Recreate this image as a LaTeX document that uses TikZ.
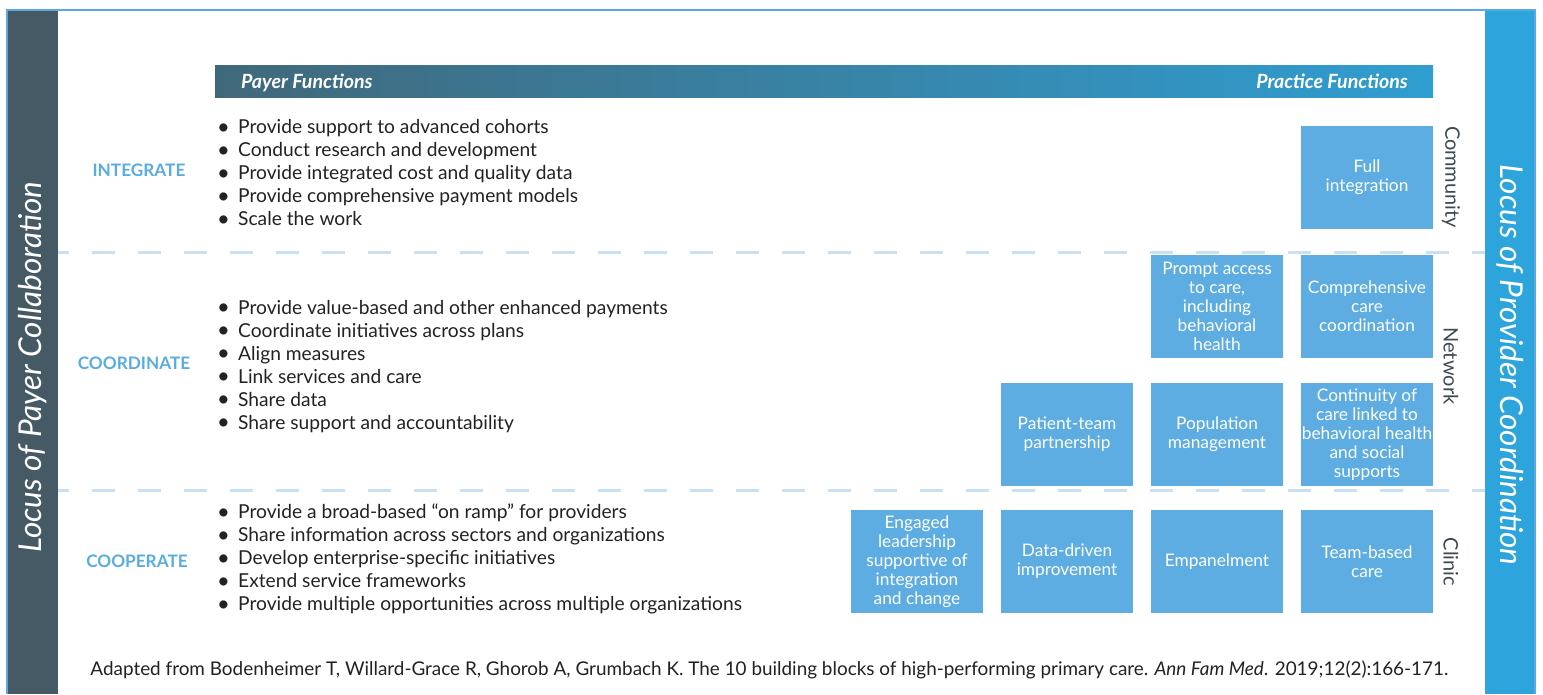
\documentclass[tikz,border=0pt]{standalone}
\usepackage{fontspec}
\setmainfont{Lato}
\usetikzlibrary{positioning}
\definecolor{slate}{HTML}{455A64}
\definecolor{barblue}{HTML}{2DA5DC}
\definecolor{boxblue}{HTML}{5DADE2}
\definecolor{lblblue}{HTML}{5AACE0}
\definecolor{dashblue}{HTML}{C9E0F3}
\definecolor{framblue}{HTML}{5AA9E0}
\definecolor{txtdark}{HTML}{222222}
\definecolor{sidegray}{HTML}{3D4A52}
\pgfdeclarehorizontalshading{hdrshade}{100bp}{color(0bp)=(slate); color(12bp)=(slate); color(50bp)=(barblue!55!slate); color(82bp)=(barblue); color(100bp)=(barblue)}
\tikzset{
  blk/.style={fill=boxblue, text=white, minimum width=132pt, minimum height=103pt, inner sep=0pt,
    align=center, font=\fontsize{17.3}{19}\selectfont},
  rowlbl/.style={text=lblblue, font=\fontsize{17.2}{20}\selectfont\bfseries, inner sep=0pt},
  blist/.style={text=txtdark, align=left, anchor=west, inner sep=0pt, font=\fontsize{19.2}{23}\selectfont},
  sidelbl/.style={text=sidegray, rotate=-90, inner sep=0pt, font=\fontsize{20}{22}\selectfont},
  locus/.style={text=white, inner sep=0pt, font=\fontsize{31.5}{34}\selectfont\itshape},
  sep/.style={draw=dashblue, line width=3pt, dash pattern=on 23pt off 23pt, dash phase=12pt},
  hdr/.style={text=white, inner sep=0pt, font=\fontsize{19.6}{22}\selectfont\bfseries\itshape}
}
\newcommand{\bl}{\makebox[21pt][l]{\raisebox{-0.5pt}{\fontsize{22}{23}\selectfont•}}}
\begin{document}
\begin{tikzpicture}[x=1pt,y=-1pt]
\useasboundingbox (0,0) rectangle (1543,694);
\fill[white] (0,0) rectangle (1543,694);
% side bars
\fill[slate] (8,10) rectangle (58,694);
\fill[barblue] (1485,10) rectangle (1535,694);
\draw[framblue, line width=1.5pt] (7,694) -- (7,10) -- (1535,10) -- (1535,694);
\node[locus, rotate=90] (payloc) at (33,367) {Locus of Payer Collaboration};
\node[locus, rotate=-90] (provloc) at (1510,365) {Locus of Provider Coordination};
% header
\shade[shading=hdrshade] (215,65) rectangle (1433,97);
\node[hdr, anchor=base west] (payer) at (241,88) {Payer Functions};
\node[hdr, anchor=base east] (practice) at (1408,88) {Practice Functions};
% separators
\coordinate (s1a) at (58,252); \coordinate (s1b) at (1485,252);
\coordinate (s2a) at (58,490); \coordinate (s2b) at (1485,490);
\draw[sep] (s1a) -- (s1b);
\draw[sep] (s2a) -- (s2b);
% row labels
\node[rowlbl] (integrate) at (139,170) {INTEGRATE};
\node[rowlbl] (coordinate) at (134,363) {COORDINATE};
\node[rowlbl] (cooperate) at (137,561) {COOPERATE};
% bullet lists
\node[blist] (intlist) at (217,173) {\bl Provide support to advanced cohorts\\
\bl Conduct research and development\\
\bl Provide integrated cost and quality data\\
\bl Provide comprehensive payment models\\
\bl Scale the work};
\node[blist] (coordlist) at (217,366.5) {\bl Provide value-based and other enhanced payments\\
\bl Coordinate initiatives across plans\\
\bl Align measures\\
\bl Link services and care\\
\bl Share data\\
\bl Share support and accountability};
\node[blist] (cooplist) at (217,559) {\bl Provide a broad-based “on ramp” for providers\\
\bl Share information across sectors and organizations\\
\bl Develop enterprise-specific initiatives\\
\bl Extend service frameworks\\
\bl Provide multiple opportunities across multiple organizations};
% blocks
\node[blk] (full) at (1367,177.5) {Full\\integration};
\node[blk] (prompt) at (1217,306.5) {Prompt access\\to care,\\including\\behavioral\\health};
\node[blk] (compcare) at (1367,306.5) {Comprehensive\\care\\coordination};
\node[blk] (patient) at (1067,434.5) {Patient-team\\partnership};
\node[blk] (popmgmt) at (1217,434.5) {Population\\management};
\node[blk] (continuity) at (1367,434.5) {Continuity of\\care linked to\\behavioral health\\and social\\supports};
\node[blk] (engaged) at (917,561.5) {Engaged\\leadership\\supportive of\\integration\\and change};
\node[blk] (datadriven) at (1067,561.5) {Data-driven\\improvement};
\node[blk] (empanel) at (1217,561.5) {Empanelment};
\node[blk] (teambased) at (1367,561.5) {Team-based\\care};
% level labels
\node[sidelbl] (community) at (1451,177) {Community};
\node[sidelbl] (network) at (1451,366) {Network};
\node[sidelbl] (clinic) at (1451,562) {Clinic};
% citation
\node[text=txtdark, inner sep=0pt, font=\fontsize{18.9}{22}\selectfont] (cite) at (769.5,670) {Adapted from Bodenheimer T, Willard-Grace R, Ghorob A, Grumbach K. The 10 building blocks of high-performing primary care. \textit{Ann Fam Med}. 2019;12(2):166-171.};
\end{tikzpicture}
\end{document}
